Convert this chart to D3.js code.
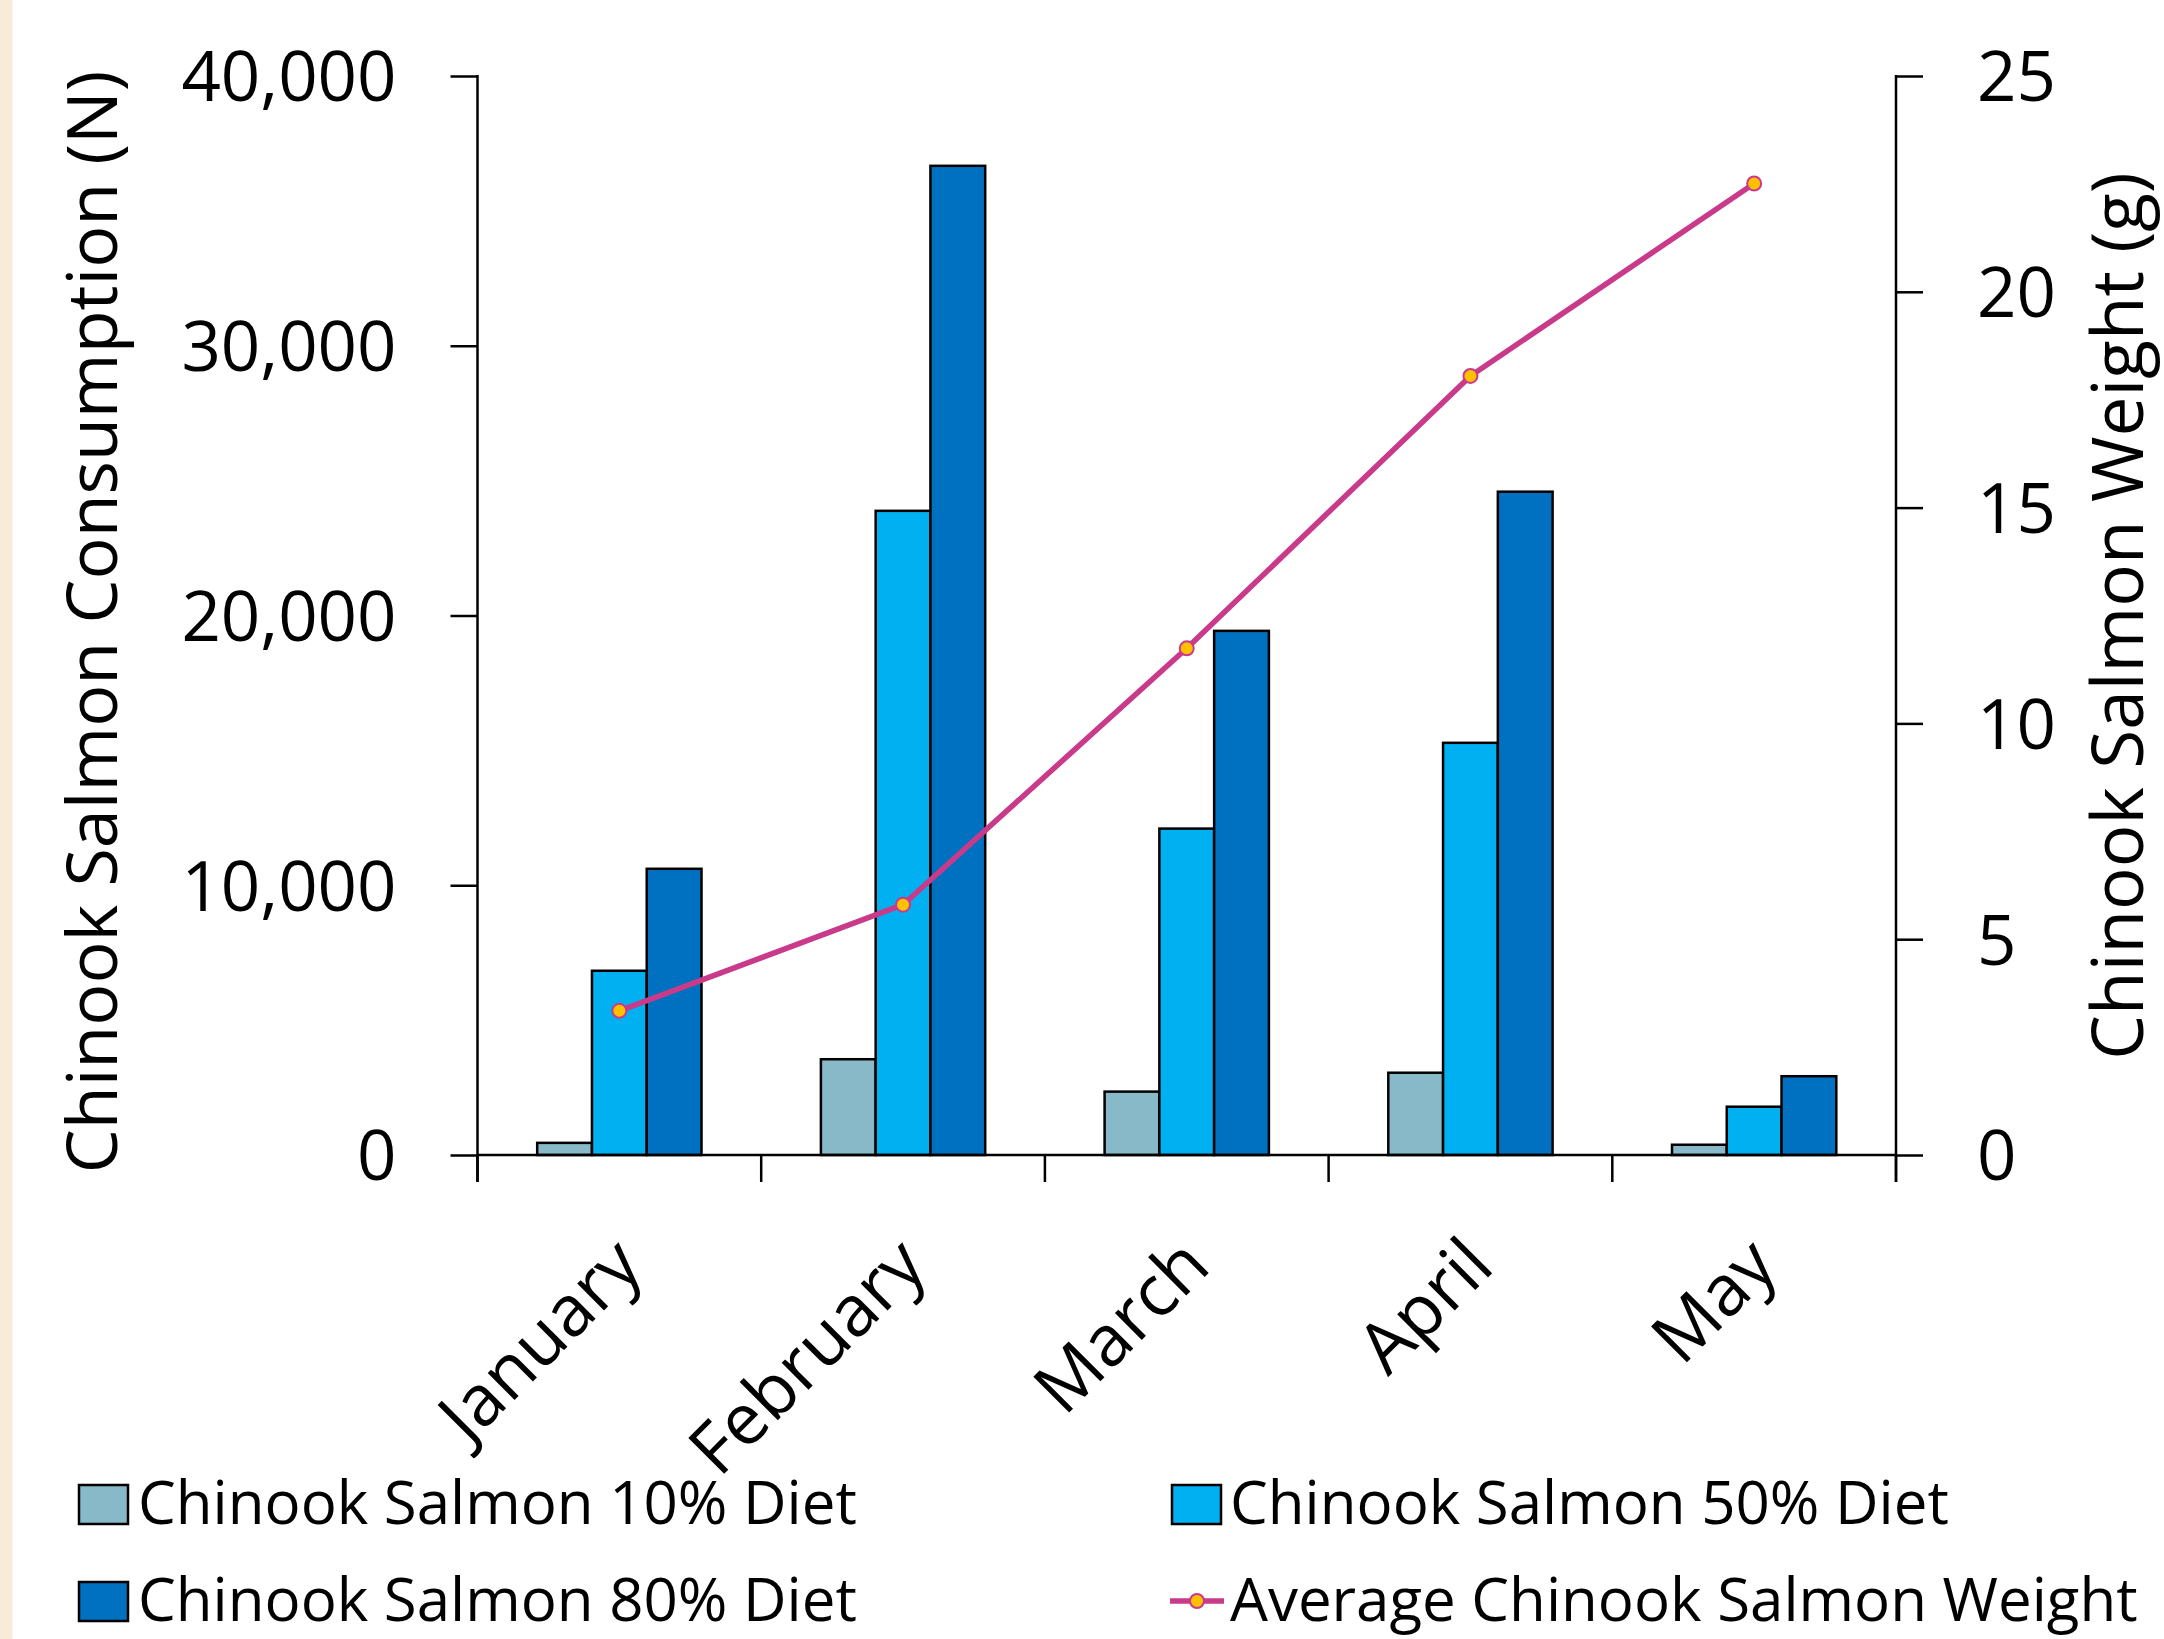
<!DOCTYPE html>
<html>
<head>
<meta charset="utf-8">
<script src="https://cdn.jsdelivr.net/npm/d3@7"></script>
<style>
  html, body { margin: 0; padding: 0; background: #ffffff; }
  svg { display: block; }
  text { font-family: "Open Sans", "Noto Sans", sans-serif; fill: #000; }
</style>
</head>
<body>
<svg id="chart" width="2164" height="1639"></svg>
<script>
// ---- data ----
const months = ["January", "February", "March", "April", "May"];
const seriesNames = ["Chinook Salmon 10% Diet", "Chinook Salmon 50% Diet", "Chinook Salmon 80% Diet"];
const diet10 = [450, 3550, 2350, 3050, 380];
const diet50 = [6830, 23880, 12100, 15280, 1790];
const diet80 = [10610, 36670, 19430, 24590, 2920];
const weightName = "Average Chinook Salmon Weight";
const avgWeight = [3.34, 5.80, 11.74, 18.05, 22.51];
const leftTicks = [0, 10000, 20000, 30000, 40000];
const rightTicks = [0, 5, 10, 15, 20, 25];
const leftTitle = "Chinook Salmon Consumption (N)";
const rightTitle = "Chinook Salmon Weight (g)";

const colors = ["#88b9c9", "#00b0f0", "#0070c0"];
const lineColor = "#c93a8a";
const markerFill = "#ffc000";

// ---- layout ----
const W = 2164, H = 1639;
const plot = { left: 477.5, right: 1896, top: 76, bottom: 1155 };
const tickLen = 27;

const svg = d3.select("#chart");
svg.append("rect").attr("x", 0).attr("y", 0).attr("width", W).attr("height", H).attr("fill", "#ffffff");
svg.append("rect").attr("x", 0).attr("y", 0).attr("width", 12.5).attr("height", H).attr("fill", "#f8ebd9");

const x = d3.scaleBand().domain(months).range([plot.left, plot.right]).paddingInner(0).paddingOuter(0);
const xs = d3.scaleBand().domain(seriesNames).range([0, x.bandwidth()]).paddingInner(0).paddingOuter(1.09);
const yL = d3.scaleLinear().domain([0, 40000]).range([plot.bottom, plot.top]);
const yR = d3.scaleLinear().domain([0, 25]).range([plot.bottom, plot.top]);

const seriesData = [diet10, diet50, diet80];

// ---- bars ----
const gBars = svg.append("g");
seriesData.forEach((vals, si) => {
  gBars.selectAll(null)
    .data(vals.map((v, i) => ({ m: months[i], v })))
    .enter().append("rect")
    .attr("x", d => x(d.m) + xs(seriesNames[si]))
    .attr("y", d => yL(d.v))
    .attr("width", xs.bandwidth())
    .attr("height", d => yL(0) - yL(d.v))
    .attr("fill", colors[si])
    .attr("stroke", "#000")
    .attr("stroke-width", 2.5);
});

// ---- axes ----
const fontTick = 69;
const axL = svg.append("g").attr("transform", `translate(${plot.left},0)`)
  .call(d3.axisLeft(yL).tickValues(leftTicks).tickFormat(d3.format(",")).tickSize(tickLen).tickSizeOuter(0).tickPadding(54));
const axR = svg.append("g").attr("transform", `translate(${plot.right},0)`)
  .call(d3.axisRight(yR).tickValues(rightTicks).tickFormat(d3.format("d")).tickSize(tickLen).tickSizeOuter(0).tickPadding(54));
[axL, axR].forEach(a => {
  a.select(".domain").remove();
  a.selectAll(".tick line").attr("stroke", "#000").attr("stroke-width", 2.5);
  a.selectAll(".tick text").attr("font-size", fontTick).attr("font-family", "Open Sans").attr("fill", "#000").attr("dy", "0.36em");
});

// axis lines
svg.append("line").attr("x1", plot.left).attr("x2", plot.left).attr("y1", plot.top - 1).attr("y2", plot.bottom + tickLen)
  .attr("stroke", "#000").attr("stroke-width", 2.5);
svg.append("line").attr("x1", plot.right).attr("x2", plot.right).attr("y1", plot.top - 1).attr("y2", plot.bottom + tickLen)
  .attr("stroke", "#000").attr("stroke-width", 2.5);
svg.append("line").attr("x1", plot.left).attr("x2", plot.right).attr("y1", plot.bottom).attr("y2", plot.bottom)
  .attr("stroke", "#000").attr("stroke-width", 2.5);

// bottom ticks at category boundaries
const edges = months.map(m => x(m)).concat([x.range()[1]]);
svg.append("g").selectAll("line").data(edges).enter().append("line")
  .attr("x1", d => d).attr("x2", d => d)
  .attr("y1", plot.bottom).attr("y2", plot.bottom + tickLen)
  .attr("stroke", "#000").attr("stroke-width", 2.5);

// month labels rotated
svg.append("g").selectAll("text").data(months).enter().append("text")
  .attr("transform", d => `translate(${x(d) + x.bandwidth() / 2 + 26},${plot.bottom + 114}) rotate(-45)`)
  .attr("text-anchor", "end")
  .attr("font-size", 71)
  .text(d => d);

// axis titles
svg.append("text")
  .attr("transform", `translate(117,622) rotate(-90)`)
  .attr("text-anchor", "middle")
  .attr("font-size", 70)
  .text(leftTitle);
svg.append("text")
  .attr("transform", `translate(2143,616) rotate(-90)`)
  .attr("text-anchor", "middle")
  .attr("font-size", 71)
  .text(rightTitle);

// ---- line ----
const cx = m => x(m) + x.bandwidth() / 2;
const lineGen = d3.line().x((d, i) => cx(months[i])).y(d => yR(d));
svg.append("path").datum(avgWeight).attr("d", lineGen)
  .attr("fill", "none").attr("stroke", lineColor).attr("stroke-width", 5.5).attr("stroke-linejoin", "round");
svg.append("g").selectAll("circle").data(avgWeight).enter().append("circle")
  .attr("cx", (d, i) => cx(months[i])).attr("cy", d => yR(d)).attr("r", 7)
  .attr("fill", markerFill).attr("stroke", lineColor).attr("stroke-width", 2);

// ---- legend ----
const legFont = 60;
const legendItems = [
  { name: seriesNames[0], type: "bar", color: colors[0], sx: 79, tx: 138, base: 1524 },
  { name: seriesNames[1], type: "bar", color: colors[1], sx: 1172, tx: 1230, base: 1524 },
  { name: seriesNames[2], type: "bar", color: colors[2], sx: 79, tx: 138, base: 1621 },
  { name: weightName, type: "line", color: lineColor, sx: 1170, tx: 1230, base: 1621 }
];
const gLeg = svg.append("g");
legendItems.forEach(it => {
  if (it.type === "bar") {
    gLeg.append("rect").attr("x", it.sx).attr("y", it.base - 39).attr("width", 49).attr("height", 39)
      .attr("fill", it.color).attr("stroke", "#000").attr("stroke-width", 2.5);
  } else {
    const ly = it.base - 20;
    gLeg.append("line").attr("x1", it.sx).attr("x2", it.sx + 54).attr("y1", ly).attr("y2", ly)
      .attr("stroke", it.color).attr("stroke-width", 5.5);
    gLeg.append("circle").attr("cx", it.sx + 27).attr("cy", ly).attr("r", 7)
      .attr("fill", markerFill).attr("stroke", it.color).attr("stroke-width", 2);
  }
  gLeg.append("text").attr("x", it.tx).attr("y", it.base).attr("font-size", legFont).text(it.name);
});
</script>
</body>
</html>
